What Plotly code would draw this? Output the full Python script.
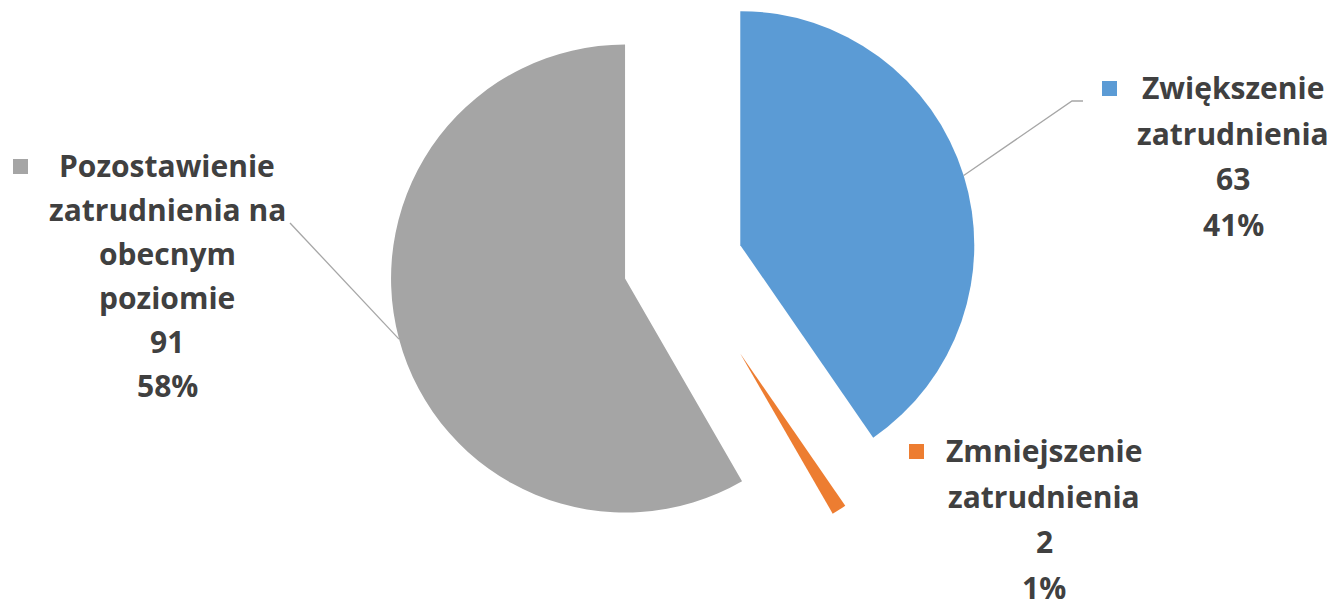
import math
import plotly.graph_objects as go

# data
categories = ["Zwiększenie zatrudnienia", "Zmniejszenie zatrudnienia",
              "Pozostawienie zatrudnienia na obecnym poziomie"]
values = [63, 2, 91]
percent_labels = ["41%", "1%", "58%"]
label_lines = [["Zwiększenie", "zatrudnienia"],
               ["Zmniejszenie", "zatrudnienia"],
               ["Pozostawienie", "zatrudnienia na", "obecnym", "poziomie"]]
colors = ["#5B9BD5", "#ED7D31", "#A5A5A5"]

W, H = 1335, 602
OFF = 8            # the page body margin, px
CX, CY = 683, 263  # centre of the un-exploded pie, px (page coords)
# per slice: outer radius and how far it is pulled out, px
radius = [234, 185, 234]
explode = [60, 107, 60]
TEXT = "#404040"
FONT = "Open Sans"
FW, FH = W - OFF, H - OFF


def fx(x):
    return (x - OFF) / FW


def fy(y):
    return 1 - (y - OFF) / FH


total = sum(values)
mids = []
acc = 0
for v in values:
    mids.append((acc + v / 2) / total * 360)
    acc += v

fig = go.Figure()
centres = []
for i, cat in enumerate(categories):
    a = math.radians(mids[i])
    r = radius[i]
    cx = CX + explode[i] * math.sin(a)
    cy = CY - explode[i] * math.cos(a)
    centres.append((cx, cy))
    slice_colors = [colors[j] if j == i else "rgba(0,0,0,0)" for j in range(len(values))]
    fig.add_trace(go.Pie(
        labels=categories, values=values, sort=False, direction="clockwise", rotation=0,
        marker=dict(colors=slice_colors, line=dict(width=0)),
        textinfo="none", hoverinfo="skip", showlegend=False,
        domain=dict(x=[fx(cx - r), fx(cx + r)], y=[fy(cy + r), fy(cy - r)]),
    ))

# label blocks: (centre x, baseline of first line, line pitch, marker left x)
label_pos = [(1233, 100, 45.5, 1102), (1044, 463, 45.5, 909), (167, 178, 44, 13)]
FS = 30
for i in range(len(values)):
    tx, base, pitch, mx = label_pos[i]
    lines = label_lines[i] + [str(values[i]), percent_labels[i]]
    for k, line in enumerate(lines):
        fig.add_annotation(
            x=fx(tx), y=fy(base + k * pitch), xref="paper", yref="paper",
            text=line, showarrow=False, xanchor="center", yanchor="bottom", yshift=-10,
            font=dict(family=FONT, size=FS, color=TEXT, weight="bold"),
        )
    fig.add_shape(type="rect", xref="paper", yref="paper",
                  x0=fx(mx), x1=fx(mx + 15), y0=fy(base - 19), y1=fy(base - 4),
                  fillcolor=colors[i], line=dict(width=0))

# leader lines from the middle of the slice edge
leader_ends = {0: [(1072, 101), (1083, 101)], 2: [(290, 223)]}
for i, pts in leader_ends.items():
    a = math.radians(mids[i])
    cx, cy = centres[i]
    sx, sy = cx + radius[i] * math.sin(a), cy - radius[i] * math.cos(a)
    path = f"M {fx(sx)} {fy(sy)} " + " ".join(f"L {fx(x)} {fy(y)}" for x, y in pts)
    fig.add_shape(type="path", xref="paper", yref="paper", path=path,
                  line=dict(color="#A6A6A6", width=1.3))

fig.update_layout(
    width=FW, height=FH, margin=dict(l=0, r=0, t=0, b=0),
    paper_bgcolor="white", plot_bgcolor="white",
)

fig.write_html("out.html")
